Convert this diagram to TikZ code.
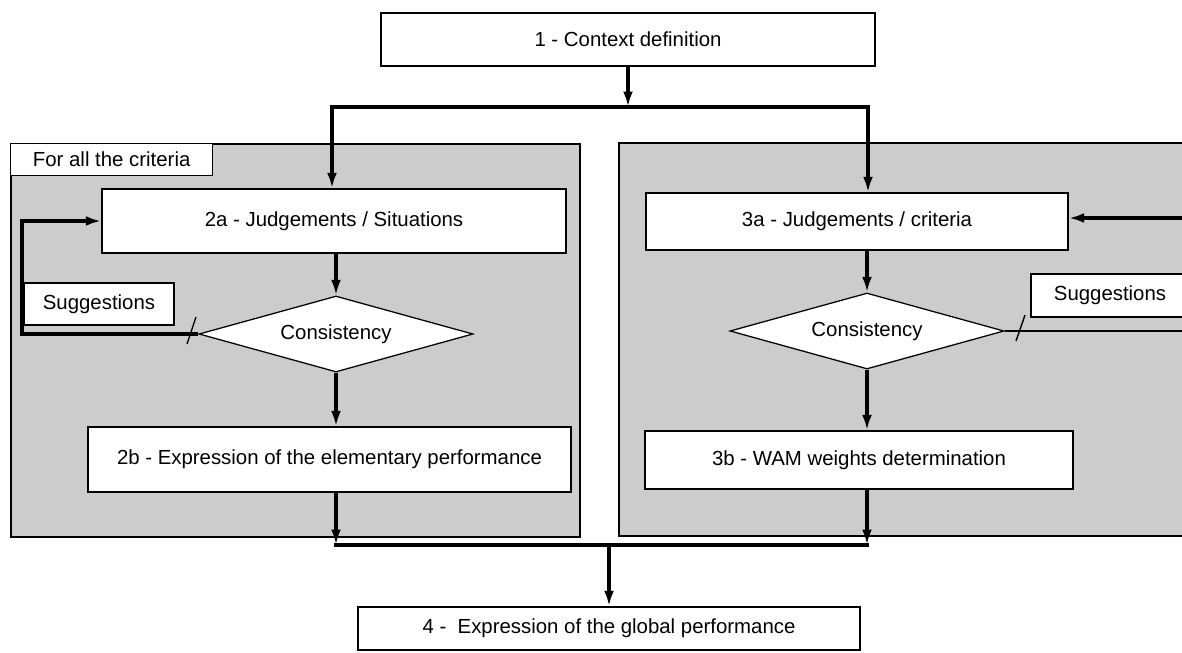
\documentclass[tikz,border=0pt]{standalone}
\usepackage{fontspec}
\setmainfont{Liberation Sans}
\usetikzlibrary{shapes.geometric,arrows.meta}
\definecolor{panelgray}{RGB}{204,204,204}
\tikzset{
  box/.style={draw,line width=0.9pt,fill=white,inner sep=0pt,font=\fontsize{14.5}{17}\selectfont},
  check/.style={box,diamond,aspect=3.6,minimum width=6.85cm,minimum height=1.9cm},
  panel/.style={draw,line width=1.3pt,fill=panelgray,anchor=north west,inner sep=0pt},
  flow/.style={-{Latex[length=11pt,width=7pt]},line width=2.3pt},
  link/.style={line width=2.3pt,line cap=rect},
  cut/.style={line width=1pt}
}
\begin{document}
\begin{tikzpicture}[x=0.025cm,y=-0.025cm]
  \useasboundingbox (0,0) rectangle (1182,652);
  \clip (0,0) rectangle (1182,652);
  \fill[white] (0,0) rectangle (1182,652);

  \node [panel,minimum width=14.225cm,minimum height=9.825cm] (pl) at (10,143) {};
  \node [panel,minimum width=14.5cm,minimum height=9.825cm] (pr) at (618,142) {};
  \node [box,anchor=north west,minimum width=5.05cm,minimum height=0.8cm] (all) at (10,143) {For all the criteria};

  \node [box,minimum width=12.35cm,minimum height=1.325cm] (1) at (628,39.5) {1 - Context definition};
  \node [box,minimum width=11.6cm,minimum height=1.6cm] (2a) at (334,221) {2a - Judgements / Situations};
  \node [check] (c2) at (336,334) {Consistency};
  \node [box,minimum width=3.75cm,minimum height=1.05cm] (s2) at (99,304) {Suggestions};
  \node [box,minimum width=12.075cm,minimum height=1.625cm] (2b) at (329.5,459.5) {2b - Expression of the elementary performance};
  \node [box,minimum width=10.55cm,minimum height=1.425cm] (3a) at (857,221.5) {3a - Judgements / criteria};
  \node [check] (c3) at (867,331) {Consistency};
  \node [box,minimum width=3.95cm,minimum height=1.075cm] (s3) at (1110,295.5) {Suggestions};
  \node [box,minimum width=10.7cm,minimum height=1.45cm] (3b) at (859,460) {3b - WAM weights determination};
  \node [box,minimum width=12.55cm,minimum height=1.075cm] (4) at (609,628.5) {4 -\ \ Expression of the global performance};

  \coordinate (fork) at (628,107);
  \coordinate (forkL) at (332,107);
  \coordinate (forkR) at (868,107);
  \draw[flow] (1) -- (fork);
  \draw[link] (forkL) -- (forkR);
  \draw[flow] (forkL) -- (forkL |- 2a.north);
  \draw[flow] (forkR) -- (forkR |- 3a.north);

  \coordinate (loopL) at (22,334);
  \draw[flow] (c2 |- 2a.south) -- (c2);
  \draw[flow] (c2) -- (c2 |- 2b.north);
  \draw[flow] (c2.west) -- (loopL) |- (2a.west);
  \coordinate (cutL) at (191.5,330.5);
  \draw[cut] (cutL) ++(-4.5,13.5) -- ++(9,-27);

  \coordinate (inR) at (1182,218);
  \coordinate (outR) at (1182,331);
  \draw[flow] (c3 |- 3a.south) -- (c3);
  \draw[flow] (c3) -- (c3 |- 3b.north);
  \draw[flow] (inR) -- (inR -| 3a.east);
  \draw[line width=1.4pt] (c3.east) -- (outR);
  \coordinate (cutR) at (1020.5,328);
  \draw[cut] (cutR) ++(-4.5,13) -- ++(9,-26);

  \coordinate (join) at (609,545);
  \draw[flow] (c2 |- 2b.south) -- (c2 |- join);
  \draw[flow] (c3 |- 3b.south) -- (c3 |- join);
  \draw[link] (c2 |- join) -- (c3 |- join);
  \draw[flow] (join) -- (4);
\end{tikzpicture}
\end{document}
